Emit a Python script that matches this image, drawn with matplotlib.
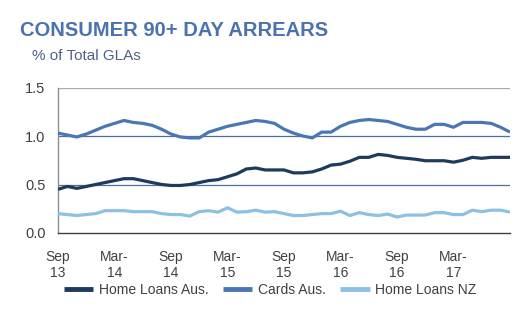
import matplotlib
matplotlib.use("Agg")
import matplotlib.pyplot as plt
import numpy as np

plt.rcParams['font.family'] = ['Liberation Sans', 'DejaVu Sans']

tick_labels = ["Sep\n13", "Mar-\n14", "Sep\n14", "Mar-\n15", "Sep\n15", "Mar-\n16", "Sep\n16", "Mar-\n17"]
tick_months = [0, 6, 12, 18, 24, 30, 36, 42]

home_loans_aus = [0.45, 0.48, 0.46, 0.48, 0.50, 0.52, 0.54, 0.56, 0.56, 0.54,
                  0.52, 0.50, 0.49, 0.49, 0.50, 0.52, 0.54, 0.55, 0.58, 0.61,
                  0.66, 0.67, 0.65, 0.65, 0.65, 0.62, 0.62, 0.63, 0.66, 0.70,
                  0.71, 0.74, 0.78, 0.78, 0.81, 0.80, 0.78, 0.77, 0.76, 0.745,
                  0.745, 0.745, 0.73, 0.75, 0.78, 0.77, 0.78, 0.78, 0.78]
cards_aus = [1.03, 1.01, 0.99, 1.02, 1.06, 1.10, 1.13, 1.16, 1.14, 1.13,
             1.11, 1.07, 1.02, 0.99, 0.98, 0.98, 1.04, 1.07, 1.10, 1.12,
             1.14, 1.16, 1.15, 1.13, 1.07, 1.03, 1.00, 0.98, 1.04, 1.04,
             1.10, 1.14, 1.16, 1.17, 1.16, 1.15, 1.12, 1.09, 1.07, 1.07,
             1.12, 1.12, 1.09, 1.14, 1.14, 1.14, 1.13, 1.09, 1.04]
home_loans_nz = [0.20, 0.19, 0.18, 0.19, 0.20, 0.23, 0.23, 0.23, 0.22, 0.22,
                 0.22, 0.20, 0.19, 0.19, 0.175, 0.22, 0.23, 0.215, 0.26, 0.215,
                 0.22, 0.235, 0.215, 0.22, 0.20, 0.18, 0.18, 0.19, 0.20, 0.20,
                 0.225, 0.18, 0.21, 0.19, 0.18, 0.195, 0.165, 0.185, 0.185, 0.185,
                 0.21, 0.21, 0.19, 0.19, 0.235, 0.22, 0.235, 0.235, 0.215]

x = np.arange(len(cards_aus))

fig = plt.figure(figsize=(5.30, 3.24), dpi=100)
ax = fig.add_axes([58/530, 1-233/324, (510-58)/530, (233-87.5)/324])

c_dark = '#1e3a5c'
c_mid = '#4a77b4'
c_light = '#8cc0e4'

ax.plot(x, home_loans_aus, color=c_dark, lw=2.3, label='Home Loans Aus.', solid_capstyle='butt', zorder=4)
ax.plot(x, cards_aus, color=c_mid, lw=2.3, label='Cards Aus.', solid_capstyle='butt', zorder=4)
ax.plot(x, home_loans_nz, color=c_light, lw=2.3, label='Home Loans NZ', solid_capstyle='butt', zorder=4)

ax.set_xlim(0, len(x) - 1)
ax.set_ylim(0, 1.5)
ax.set_yticks([0, 0.5, 1.0, 1.5])
ax.set_yticklabels(['0.0', '0.5', '1.0', '1.5'])
for yv in [0.5, 1.0]:
    ax.axhline(yv, color='#4f6f9f', lw=0.9, zorder=1)
ax.axhline(1.5, color='#a8adb5', lw=1.0, zorder=1)

ax.set_xticks(tick_months)
ax.set_xticklabels(tick_labels, linespacing=1.25)
ax.tick_params(axis='x', length=0, pad=12, labelsize=10, labelcolor='#404040')
ax.tick_params(axis='y', length=0, pad=9, labelsize=10.5, labelcolor='#404040')

for s in ['top', 'right']:
    ax.spines[s].set_visible(False)
ax.spines['left'].set_color('#8a8f96')
ax.spines['left'].set_linewidth(1.0)
ax.spines['bottom'].set_color('#3a3f46')
ax.spines['bottom'].set_linewidth(1.0)

fig.text(20/530, 1-36/324, 'CONSUMER 90+ DAY ARREARS', fontsize=14.5, fontweight='bold',
         color='#4a72ae', ha='left', va='baseline')
fig.text(32/530, 1-60/324, '% of Total GLAs', fontsize=11, color='#4f6286',
         ha='left', va='baseline')

leg = fig.legend(loc='center', bbox_to_anchor=(270/530, 1-290/324), ncol=3, frameon=False,
                 fontsize=10, handlelength=2.15, handletextpad=0.4, columnspacing=1.0,
                 labelcolor='#404040')
for h in leg.get_lines():
    h.set_linewidth(3.5)

fig.savefig('out.png', dpi=100)
